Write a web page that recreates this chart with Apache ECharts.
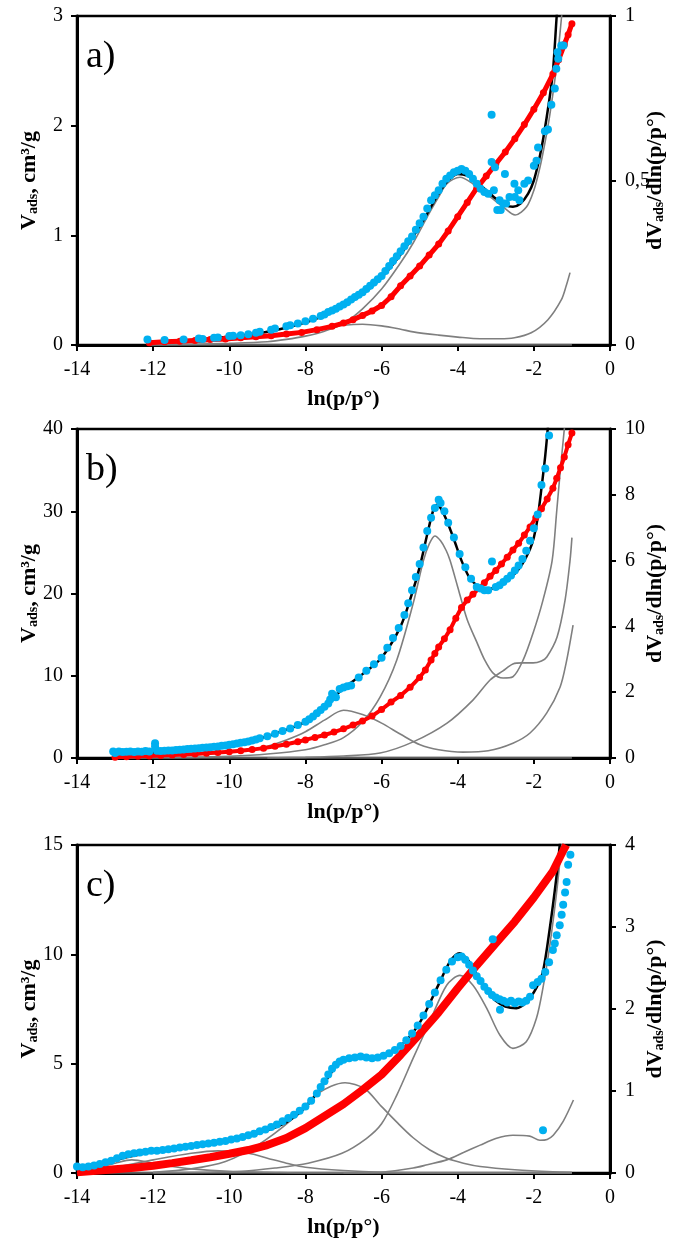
<!DOCTYPE html>
<html>
<head>
<meta charset="utf-8">
<script src="https://cdn.jsdelivr.net/npm/echarts@6/dist/echarts.min.js"></script>
<style>
html,body{margin:0;padding:0;background:#fff;}
#chart{width:673px;height:1247px;}
</style>
</head>
<body>
<div id="chart"></div>
<script>
// ---------- DATA ----------
// x values: ln(p/p°); left axis: V_ads (red); right axis: dV/dln(p/p°) (blue dots, black fit, gray components)
const xTicks = [-14, -12, -10, -8, -6, -4, -2, 0];
const panelLabels = ['a)', 'b)', 'c)'];
const leftMax = [3, 40, 15];
const leftInterval = [1, 10, 5];
const rightMax = [1, 10, 4];
const rightInterval = [0.5, 2, 1];

// Panel a
const a_red = [[-12.1,0.02],[-11.7,0.03],[-11.3,0.035],[-10.9,0.04],[-10.5,0.05],[-10.1,0.055],[-9.7,0.065],[-9.3,0.075],[-8.9,0.085],[-8.5,0.1],[-8.1,0.115],[-7.7,0.14],[-7.3,0.17],[-7.0,0.2],[-6.75,0.23],[-6.5,0.27],[-6.25,0.31],[-6.0,0.36],[-5.75,0.44],[-5.5,0.54],[-5.25,0.63],[-5.0,0.72],[-4.75,0.82],[-4.5,0.92],[-4.25,1.04],[-4.0,1.17],[-3.75,1.3],[-3.5,1.43],[-3.25,1.54],[-3.0,1.65],[-2.75,1.76],[-2.5,1.88],[-2.25,2.01],[-2.0,2.15],[-1.75,2.3],[-1.5,2.47],[-1.35,2.6],[-1.2,2.74],[-1.1,2.83],[-1.0,2.93]];
const a_blue = [[-12.15,0.017],[-11.7,0.015],[-11.2,0.017],[-10.8,0.02],[-10.7,0.018],[-10.4,0.022],[-10.3,0.023],[-10.0,0.027],[-9.9,0.028],[-9.7,0.03],[-9.5,0.033],[-9.3,0.037],[-9.2,0.04],[-8.9,0.046],[-8.8,0.05],[-8.5,0.057],[-8.4,0.06],[-8.2,0.065],[-8.0,0.072],[-7.8,0.08],[-7.6,0.088],[-7.5,0.093],[-7.4,0.1],[-7.3,0.105],[-7.2,0.11],[-7.1,0.117],[-7.0,0.123],[-6.9,0.13],[-6.8,0.138],[-6.7,0.146],[-6.6,0.153],[-6.5,0.16],[-6.4,0.17],[-6.3,0.18],[-6.2,0.19],[-6.1,0.2],[-6.0,0.21],[-5.9,0.225],[-5.8,0.24],[-5.7,0.255],[-5.6,0.27],[-5.5,0.285],[-5.4,0.3],[-5.3,0.315],[-5.2,0.33],[-5.1,0.35],[-5.0,0.37],[-4.9,0.39],[-4.8,0.415],[-4.7,0.44],[-4.6,0.455],[-4.5,0.47],[-4.4,0.49],[-4.3,0.505],[-4.2,0.515],[-4.1,0.525],[-4.0,0.53],[-3.9,0.535],[-3.8,0.53],[-3.7,0.52],[-3.6,0.505],[-3.5,0.49],[-3.4,0.475],[-3.3,0.465],[-3.2,0.46],[-3.11,0.70],[-3.11,0.556],[-3.02,0.54],[-3.05,0.47],[-2.96,0.41],[-2.9,0.44],[-2.87,0.41],[-2.8,0.43],[-2.76,0.52],[-2.73,0.43],[-2.64,0.45],[-2.51,0.49],[-2.5,0.45],[-2.41,0.47],[-2.38,0.44],[-2.25,0.49],[-2.15,0.50],[-2.0,0.545],[-1.93,0.56],[-1.89,0.60],[-1.71,0.65],[-1.63,0.655],[-1.54,0.73],[-1.45,0.78],[-1.41,0.84],[-1.38,0.89],[-1.36,0.87],[-1.28,0.91],[-1.22,0.91]];
const a_fit = [[-12.1,0.005],[-11.5,0.01],[-11,0.015],[-10.5,0.02],[-10,0.025],[-9.5,0.032],[-9,0.04],[-8.5,0.053],[-8,0.068],[-7.5,0.09],[-7,0.118],[-6.5,0.155],[-6,0.205],[-5.5,0.275],[-5,0.36],[-4.75,0.41],[-4.5,0.46],[-4.25,0.5],[-4,0.52],[-3.75,0.515],[-3.5,0.495],[-3.25,0.47],[-3,0.445],[-2.75,0.425],[-2.55,0.42],[-2.35,0.43],[-2.15,0.46],[-2.0,0.5],[-1.85,0.57],[-1.75,0.63],[-1.6,0.74],[-1.5,0.83],[-1.4,1.0],[-1.36,1.06]];
const a_comp1 = [[-12.1,0.0],[-11,0.002],[-10,0.005],[-9,0.01],[-8.5,0.017],[-8,0.027],[-7.5,0.042],[-7,0.065],[-6.5,0.11],[-6,0.17],[-5.5,0.25],[-5.17,0.31],[-4.75,0.4],[-4.5,0.45],[-4.29,0.49],[-3.94,0.51],[-3.6,0.49],[-3.4,0.47],[-3.15,0.45],[-2.81,0.42],[-2.49,0.395],[-2.19,0.42],[-2.0,0.47],[-1.84,0.54],[-1.7,0.62],[-1.58,0.70],[-1.4,0.85],[-1.27,1.0],[-1.22,1.06]];
const a_comp2 = [[-12.1,0.003],[-11,0.008],[-10,0.015],[-9,0.025],[-8,0.04],[-7.5,0.052],[-7,0.06],[-6.5,0.063],[-6,0.058],[-5.5,0.048],[-5.17,0.04],[-4.5,0.03],[-4,0.024],[-3.41,0.019],[-2.9,0.019],[-2.51,0.022],[-2.07,0.037],[-1.63,0.077],[-1.28,0.137],[-1.15,0.18],[-1.05,0.22]];
const a_comp0 = [[-12.1,0.0],[-1.0,0.0]];

// Panel b
const b_red = [[-13.0,0.1],[-12.7,0.15],[-12.4,0.2],[-12.1,0.25],[-11.8,0.3],[-11.5,0.37],[-11.2,0.43],[-10.9,0.5],[-10.6,0.58],[-10.3,0.66],[-10.0,0.76],[-9.7,0.88],[-9.4,1.02],[-9.1,1.2],[-8.8,1.42],[-8.5,1.68],[-8.2,1.98],[-8.0,2.2],[-7.75,2.5],[-7.5,2.8],[-7.25,3.15],[-7.0,3.55],[-6.75,4.0],[-6.5,4.5],[-6.25,5.1],[-6.0,5.9],[-5.75,6.8],[-5.5,7.6],[-5.25,8.6],[-5.0,9.8],[-4.85,10.7],[-4.7,11.9],[-4.6,12.7],[-4.5,13.5],[-4.35,14.5],[-4.2,15.6],[-4.05,17.0],[-3.9,18.3],[-3.75,19.2],[-3.6,19.9],[-3.45,20.6],[-3.3,21.3],[-3.15,22.1],[-3.0,22.8],[-2.85,23.6],[-2.7,24.4],[-2.55,25.3],[-2.4,26.1],[-2.25,27.1],[-2.1,28.1],[-1.95,29.2],[-1.8,30.3],[-1.65,31.5],[-1.5,32.8],[-1.4,34.0],[-1.3,35.3],[-1.2,36.6],[-1.1,38.1],[-1.0,39.5]];
const b_blue = [[-13.05,0.2],[-13.0,0.15],[-12.9,0.2],[-12.8,0.18],[-12.7,0.19],[-12.6,0.2],[-12.5,0.18],[-12.4,0.2],[-12.3,0.19],[-12.2,0.21],[-12.1,0.2],[-11.95,0.45],[-11.95,0.35],[-11.9,0.22],[-11.8,0.21],[-11.7,0.22],[-11.6,0.23],[-11.5,0.23],[-11.4,0.24],[-11.3,0.25],[-11.2,0.26],[-11.1,0.27],[-11.0,0.28],[-10.9,0.29],[-10.8,0.3],[-10.7,0.31],[-10.6,0.32],[-10.5,0.33],[-10.4,0.34],[-10.3,0.35],[-10.2,0.37],[-10.1,0.38],[-10.0,0.4],[-9.9,0.42],[-9.8,0.44],[-9.7,0.46],[-9.6,0.48],[-9.5,0.5],[-9.4,0.53],[-9.3,0.56],[-9.2,0.6],[-9.0,0.66],[-8.8,0.74],[-8.6,0.82],[-8.4,0.9],[-8.2,1.0],[-8.0,1.1],[-7.9,1.18],[-7.8,1.26],[-7.7,1.36],[-7.6,1.46],[-7.5,1.56],[-7.4,1.66],[-7.35,1.78],[-7.3,1.95],[-7.25,1.9],[-7.2,1.85],[-7.1,2.1],[-7.0,2.14],[-6.9,2.18],[-6.8,2.2],[-6.6,2.45],[-6.4,2.65],[-6.2,2.85],[-6.0,3.05],[-5.85,3.35],[-5.7,3.65],[-5.55,3.95],[-5.4,4.35],[-5.3,4.7],[-5.2,5.1],[-5.1,5.5],[-5.0,5.9],[-4.9,6.4],[-4.8,6.9],[-4.7,7.3],[-4.6,7.6],[-4.5,7.85],[-4.45,7.75],[-4.35,7.5],[-4.25,7.15],[-4.1,6.7],[-3.95,6.2],[-3.8,5.8],[-3.65,5.45],[-3.5,5.2],[-3.4,5.15],[-3.3,5.1],[-3.2,5.1],[-3.1,5.97],[-3.0,5.2],[-2.9,5.25],[-2.8,5.35],[-2.7,5.45],[-2.6,5.55],[-2.5,5.7],[-2.4,5.85],[-2.3,6.05],[-2.2,6.3],[-2.1,6.6],[-2.0,6.98],[-1.9,7.4],[-1.8,8.3],[-1.7,8.8],[-1.6,9.8]];
const b_fit = [[-13,0.12],[-12,0.17],[-11,0.25],[-10,0.38],[-9.5,0.5],[-9,0.66],[-8.5,0.86],[-8,1.1],[-7.5,1.55],[-7.2,1.9],[-7,2.12],[-6.5,2.55],[-6,3.05],[-5.5,4.0],[-5.2,5.0],[-5,5.8],[-4.8,6.8],[-4.65,7.5],[-4.55,7.7],[-4.45,7.6],[-4.3,7.25],[-4.1,6.65],[-3.9,6.0],[-3.7,5.5],[-3.5,5.25],[-3.3,5.15],[-3.1,5.15],[-2.9,5.25],[-2.7,5.4],[-2.5,5.6],[-2.3,5.9],[-2.1,6.35],[-2.0,6.7],[-1.9,7.3],[-1.8,8.2],[-1.7,9.2],[-1.62,10.2]];
const b_comp1 = [[-13,0.02],[-12,0.05],[-11,0.1],[-10,0.17],[-9.5,0.25],[-9,0.36],[-8.5,0.55],[-8,0.8],[-7.5,1.15],[-7.0,1.45],[-6.5,1.32],[-6.0,1.06],[-5.5,0.72],[-4.99,0.4],[-4.5,0.25],[-3.86,0.18],[-3.2,0.22],[-2.55,0.45],[-2.1,0.76],[-1.66,1.37],[-1.31,2.16],[-1.15,2.9],[-0.97,4.04]];
const b_comp2 = [[-13,0.0],[-11,0.02],[-10,0.05],[-9,0.12],[-8,0.25],[-7.5,0.4],[-7,0.62],[-6.5,1.1],[-6.04,1.85],[-5.6,2.98],[-5.17,4.7],[-4.9,6.0],[-4.75,6.5],[-4.6,6.75],[-4.45,6.6],[-4.3,6.3],[-4.2,6.0],[-4.0,5.2],[-3.75,4.2],[-3.49,3.5],[-3.3,3.0],[-3.07,2.58],[-2.81,2.43],[-2.55,2.47],[-2.28,2.98],[-2.02,3.8],[-1.76,4.8],[-1.52,6.0],[-1.4,7.5],[-1.3,8.8],[-1.2,10.0],[-1.15,10.6]];
const b_comp3 = [[-9,0.0],[-8,0.02],[-7,0.06],[-6.04,0.15],[-5.17,0.49],[-4.28,1.06],[-3.6,1.76],[-3.15,2.37],[-2.81,2.65],[-2.55,2.86],[-2.3,2.89],[-2.02,2.89],[-1.8,2.95],[-1.66,3.07],[-1.39,3.68],[-1.18,4.8],[-1.05,6.0],[-1.0,6.7]];
const b_comp0 = [[-13.0,0.0],[-1.0,0.0]];

// Panel c
const c_red = [[-14,0.03],[-13.5,0.1],[-13,0.17],[-12.5,0.24],[-12,0.33],[-11.5,0.45],[-11,0.58],[-10.5,0.72],[-10,0.88],[-9.5,1.05],[-9,1.28],[-8.5,1.6],[-8,2.05],[-7.5,2.6],[-7,3.15],[-6.5,3.8],[-6,4.5],[-5.5,5.4],[-5,6.35],[-4.5,7.35],[-4,8.45],[-3.5,9.5],[-3,10.5],[-2.5,11.5],[-2,12.6],[-1.5,13.8],[-1.3,14.5],[-1.15,15.0]];
const c_blue = [[-14,0.08],[-13.85,0.07],[-13.7,0.08],[-13.55,0.09],[-13.4,0.11],[-13.25,0.13],[-13.1,0.15],[-12.95,0.18],[-12.8,0.21],[-12.65,0.23],[-12.5,0.24],[-12.35,0.25],[-12.2,0.26],[-12.05,0.27],[-11.9,0.27],[-11.75,0.28],[-11.6,0.29],[-11.45,0.3],[-11.3,0.31],[-11.15,0.32],[-11.0,0.33],[-10.85,0.34],[-10.7,0.35],[-10.55,0.36],[-10.4,0.37],[-10.25,0.38],[-10.1,0.39],[-9.95,0.41],[-9.8,0.42],[-9.65,0.44],[-9.5,0.46],[-9.35,0.48],[-9.2,0.51],[-9.05,0.53],[-8.9,0.56],[-8.75,0.59],[-8.6,0.63],[-8.45,0.67],[-8.3,0.71],[-8.15,0.76],[-8.0,0.81],[-7.85,0.88],[-7.7,0.97],[-7.6,1.05],[-7.5,1.12],[-7.4,1.2],[-7.3,1.27],[-7.2,1.32],[-7.1,1.36],[-7.0,1.38],[-6.85,1.4],[-6.7,1.41],[-6.55,1.42],[-6.4,1.41],[-6.25,1.4],[-6.1,1.41],[-5.95,1.43],[-5.8,1.46],[-5.65,1.5],[-5.5,1.55],[-5.35,1.62],[-5.2,1.7],[-5.05,1.8],[-4.9,1.92],[-4.75,2.06],[-4.6,2.2],[-4.45,2.35],[-4.3,2.48],[-4.15,2.58],[-4.0,2.63],[-3.9,2.64],[-3.8,2.6],[-3.7,2.54],[-3.6,2.47],[-3.5,2.4],[-3.4,2.34],[-3.3,2.27],[-3.2,2.22],[-3.1,2.17],[-3.08,2.85],[-3.0,2.14],[-2.9,2.12],[-2.89,1.99],[-2.8,2.1],[-2.7,2.08],[-2.6,2.1],[-2.5,2.07],[-2.4,2.09],[-2.3,2.08],[-2.2,2.1],[-2.1,2.15],[-2.02,2.29],[-1.9,2.33],[-1.8,2.37],[-1.76,0.52],[-1.7,2.45],[-1.6,2.57],[-1.5,2.72],[-1.45,2.8],[-1.4,2.9],[-1.32,3.02],[-1.27,3.15],[-1.23,3.27],[-1.18,3.42],[-1.14,3.55],[-1.1,3.76],[-1.04,3.88]];
const c_fit = [[-14,0.07],[-13,0.16],[-12,0.26],[-11,0.32],[-10,0.39],[-9,0.52],[-8.5,0.62],[-8,0.8],[-7.5,1.1],[-7.2,1.3],[-7,1.37],[-6.5,1.42],[-6,1.42],[-5.5,1.55],[-5,1.83],[-4.5,2.3],[-4.2,2.58],[-3.95,2.68],[-3.7,2.58],[-3.5,2.42],[-3.2,2.2],[-3,2.1],[-2.75,2.03],[-2.46,2.01],[-2.2,2.08],[-1.93,2.26],[-1.76,2.46],[-1.58,2.99],[-1.41,3.6],[-1.32,4.0],[-1.28,4.2]];
const c_comp1 = [[-14,0.02],[-13.5,0.06],[-13,0.12],[-12.56,0.16],[-12,0.12],[-11.5,0.08],[-11,0.05],[-10,0.02],[-9,0.01],[-8,0.0],[-1,0.0]];
const c_comp2 = [[-14,0.02],[-13,0.07],[-12,0.16],[-11,0.24],[-10.3,0.27],[-9.5,0.24],[-9,0.18],[-8.5,0.12],[-8,0.07],[-7,0.03],[-6,0.01],[-4,0.0],[-1,0.0]];
const c_comp3 = [[-12,0.01],[-11,0.05],[-10.1,0.14],[-9.25,0.34],[-8.36,0.65],[-7.67,0.97],[-6.96,1.1],[-6.45,1.03],[-6.04,0.83],[-5.6,0.62],[-5.17,0.43],[-4.73,0.28],[-4.29,0.18],[-3.85,0.12],[-3.41,0.08],[-2.5,0.04],[-1.5,0.015],[-1,0.01]];
const c_comp4 = [[-12,0.0],[-10.5,0.01],[-9.67,0.02],[-8.8,0.06],[-7.93,0.12],[-7.04,0.24],[-6.4,0.42],[-6.0,0.6],[-5.6,0.95],[-5.17,1.4],[-4.73,1.85],[-4.29,2.29],[-3.94,2.41],[-3.6,2.29],[-3.24,2.01],[-2.89,1.68],[-2.55,1.52],[-2.2,1.6],[-1.93,1.89],[-1.76,2.26],[-1.58,2.78],[-1.41,3.39],[-1.27,4.0],[-1.22,4.2]];
const c_comp5 = [[-7,0.0],[-6,0.01],[-5.17,0.06],[-4.8,0.1],[-4.29,0.16],[-3.85,0.25],[-3.41,0.34],[-3.0,0.42],[-2.55,0.46],[-2.11,0.45],[-1.84,0.40],[-1.65,0.41],[-1.49,0.46],[-1.23,0.63],[-0.96,0.89]];
const c_comp0 = [[-14.0,0.0],[-1.0,0.0]];

// ---------- CHART ----------
const FONT = '"Liberation Serif", "Times New Roman", serif';
const RED = '#FF0000', BLUE = '#00B0F0', GRAY = '#7F7F7F';
const gridTops = [16, 429, 845];
const gridHeights = [329, 329, 328];

const panels = [
  {red: a_red, blue: a_blue, fit: a_fit, comps: [a_comp0, a_comp2, a_comp1], redWidth: 5},
  {red: b_red, blue: b_blue, fit: b_fit, comps: [b_comp0, b_comp1, b_comp3, b_comp2], redWidth: 4},
  {red: c_red, blue: c_blue, fit: c_fit, comps: [c_comp0, c_comp1, c_comp2, c_comp3, c_comp5, c_comp4], redWidth: 8}
];

const nameRich = {
  b: {fontFamily: FONT, fontWeight: 'bold', fontSize: 22, lineHeight: 22, color: '#000'},
  s: {fontFamily: FONT, fontWeight: 'bold', fontSize: 14, lineHeight: 14, padding: [8, 0, 0, 0], color: '#000'}
};

const grids = [], xAxes = [], yAxes = [], series = [], graphics = [];
panels.forEach((p, i) => {
  grids.push({left: 77, top: gridTops[i], width: 533, height: gridHeights[i], show: true,
    borderColor: '#000', borderWidth: 2.5, backgroundColor: 'transparent',
    containLabel: false, outerBoundsMode: 'none'});
  xAxes.push({
    type: 'value', gridIndex: i, min: xTicks[0], max: xTicks[xTicks.length - 1], interval: 2,
    axisLine: {onZero: false, lineStyle: {color: '#000', width: 3}},
    axisTick: {length: 6, lineStyle: {color: '#000', width: 2}},
    axisLabel: {fontFamily: FONT, fontSize: 20, color: '#000', margin: 15},
    splitLine: {show: false},
    name: 'ln(p/p°)', nameLocation: 'middle', nameGap: 43, nameMoveOverlap: false,
    nameTextStyle: {fontFamily: FONT, fontWeight: 'bold', fontSize: 22, color: '#000'}
  });
  yAxes.push({
    type: 'value', gridIndex: i, position: 'left', min: 0, max: leftMax[i], interval: leftInterval[i],
    axisLine: {show: true, onZero: false, lineStyle: {color: '#000', width: 3}},
    axisTick: {show: true, length: 6, lineStyle: {color: '#000', width: 2}},
    axisLabel: {fontFamily: FONT, fontSize: 20, color: '#000', margin: 14},
    splitLine: {show: false},
    name: '{b|V}{s|ads}{b|, cm³/g}', nameLocation: 'middle', nameGap: 37, nameMoveOverlap: false,
    nameTextStyle: {rich: nameRich}
  });
  yAxes.push({
    type: 'value', gridIndex: i, position: 'right', min: 0, max: rightMax[i], interval: rightInterval[i],
    axisLine: {show: true, onZero: false, lineStyle: {color: '#000', width: 3}},
    axisTick: {show: true, length: 6, lineStyle: {color: '#000', width: 2}},
    axisLabel: {fontFamily: FONT, fontSize: 20, color: '#000', margin: 15,
      formatter: v => String(v).replace('.', ',')},
    splitLine: {show: false},
    name: '{b|dV}{s|ads}{b|/dln(p/p°)}', nameLocation: 'middle', nameGap: 34, nameMoveOverlap: false,
    nameTextStyle: {rich: nameRich}
  });
  const li = 2 * i, ri = 2 * i + 1;
  p.comps.forEach(c => series.push({
    type: 'line', xAxisIndex: i, yAxisIndex: ri, data: c, symbol: 'none', smooth: 0.3,
    lineStyle: {color: GRAY, width: 1.6}, z: 2, silent: true
  }));
  series.push({
    type: 'line', xAxisIndex: i, yAxisIndex: ri, data: p.fit, symbol: 'none', smooth: 0.3,
    lineStyle: {color: '#000', width: 2.5}, z: 3, silent: true
  });
  series.push({
    type: 'line', xAxisIndex: i, yAxisIndex: li, data: p.red,
    symbol: i === 2 ? 'none' : 'circle', symbolSize: 7, showAllSymbol: true,
    itemStyle: {color: RED}, lineStyle: {color: RED, width: p.redWidth}, z: 4, silent: true
  });
  series.push({
    type: 'scatter', xAxisIndex: i, yAxisIndex: ri, data: p.blue, symbol: 'circle', symbolSize: 8,
    itemStyle: {color: BLUE, opacity: 1}, z: 5, silent: true
  });
  graphics.push({type: 'text', left: 86, top: gridTops[i] + 22,
    style: {text: panelLabels[i], fontFamily: FONT, fontSize: 38, fill: '#000'}});
});

const chart = echarts.init(document.getElementById('chart'), null, {renderer: 'canvas'});
chart.setOption({
  animation: false,
  backgroundColor: '#fff',
  grid: grids, xAxis: xAxes, yAxis: yAxes, series: series, graphic: graphics
});
</script>
</body>
</html>
